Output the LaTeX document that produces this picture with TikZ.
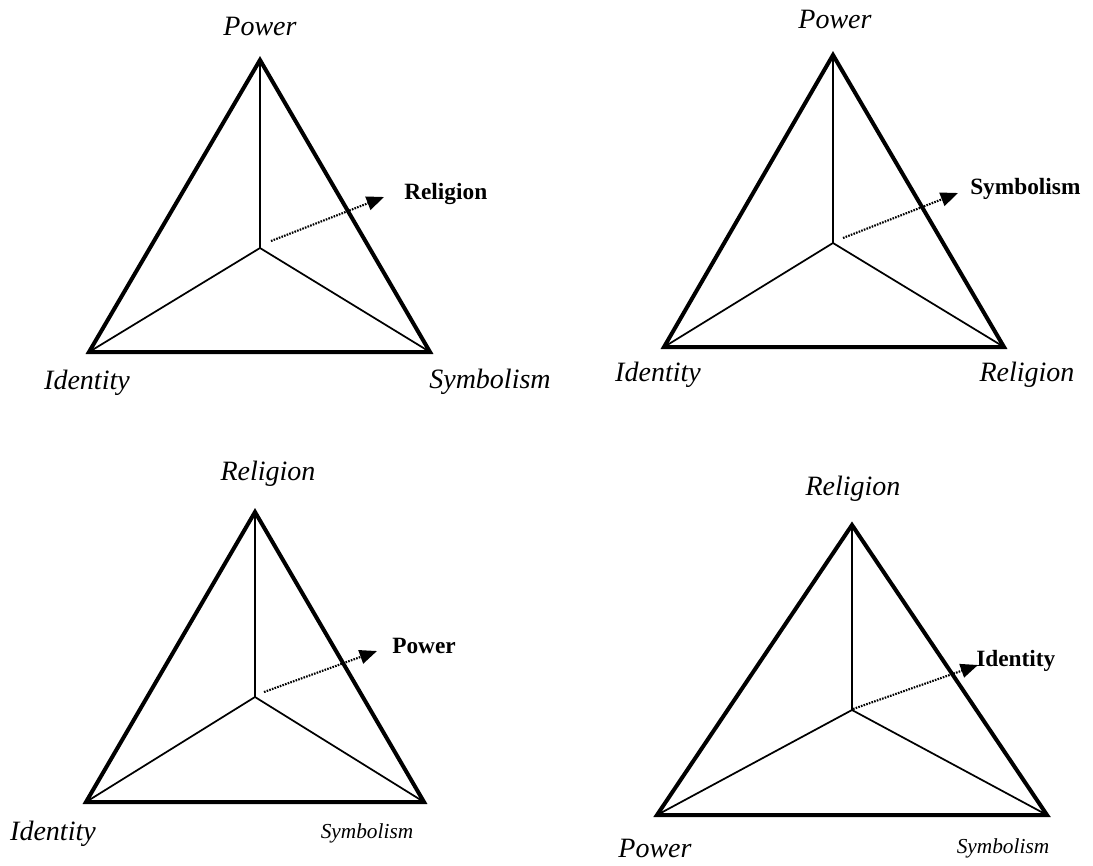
\documentclass[tikz,border=0pt]{standalone}
\usepackage{fontspec}
\setmainfont{Liberation Serif}
\usetikzlibrary{arrows.meta}
\tikzset{
  edge/.style={line width=3pt, line join=miter},
  spoke/.style={line width=1.3pt},
  ptr/.style={line width=1.6pt, dash pattern=on 1.2pt off 0.9pt, -{Triangle[length=13pt,width=10.5pt]}},
  vlab/.style={font=\fontsize{21}{24}\selectfont\itshape, inner sep=0pt},
  vsmall/.style={font=\fontsize{16}{19}\selectfont\itshape, inner sep=0pt},
  blab/.style={font=\fontsize{17.5}{20}\selectfont\bfseries, inner sep=0pt, anchor=west},
}
\begin{document}
\begin{tikzpicture}[x=0.75pt,y=-0.75pt]
\useasboundingbox (0,0) rectangle (1093,865);
% ---------- Triangle 1 ----------
\coordinate (a1) at (260,60);
\coordinate (l1) at (89,352);
\coordinate (r1) at (430,352);
\coordinate (c1) at (260,248);
\draw[edge] (a1) -- (l1) -- (r1) -- cycle;
\draw[spoke] (c1) -- (a1) (c1) -- (l1) (c1) -- (r1);
\coordinate (s1) at (271,241);
\coordinate (e1) at (384,197);
\draw[ptr] (s1) -- (e1);
\node[blab] (b1) at (404,194) {Religion};
\node[vlab] (p1) at (260,26) {Power};
\node[vlab] (i1) at (87,383) {Identity};
\node[vlab] (y1) at (490,382) {Symbolism};
% ---------- Triangle 2 ----------
\coordinate (a2) at (833,55);
\coordinate (l2) at (664,347);
\coordinate (r2) at (1004,347);
\coordinate (c2) at (833,243);
\draw[edge] (a2) -- (l2) -- (r2) -- cycle;
\draw[spoke] (c2) -- (a2) (c2) -- (l2) (c2) -- (r2);
\coordinate (s2) at (843,238);
\coordinate (e2) at (958,193);
\draw[ptr] (s2) -- (e2);
\node[blab] (b2) at (970,189) {Symbolism};
\node[vlab] (p2) at (835,19) {Power};
\node[vlab] (i2) at (658,375) {Identity};
\node[vlab] (y2) at (1027,375) {Religion};
% ---------- Triangle 3 ----------
\coordinate (a3) at (255,512);
\coordinate (l3) at (86,802);
\coordinate (r3) at (424,802);
\coordinate (c3) at (255,697);
\draw[edge] (a3) -- (l3) -- (r3) -- cycle;
\draw[spoke] (c3) -- (a3) (c3) -- (l3) (c3) -- (r3);
\coordinate (s3) at (264,692);
\coordinate (e3) at (377,651);
\draw[ptr] (s3) -- (e3);
\node[blab] (b3) at (392,646) {Power};
\node[vlab] (p3) at (268,474) {Religion};
\node[vlab] (i3) at (53,834) {Identity};
\node[vsmall] (y3) at (367,833) {Symbolism};
% ---------- Triangle 4 ----------
\coordinate (a4) at (852,525);
\coordinate (l4) at (657,815);
\coordinate (r4) at (1047,815);
\coordinate (c4) at (852,710);
\draw[edge] (a4) -- (l4) -- (r4) -- cycle;
\draw[spoke] (c4) -- (a4) (c4) -- (l4) (c4) -- (r4);
\coordinate (s4) at (853,709);
\coordinate (e4) at (978,665);
\draw[ptr] (s4) -- (e4);
\node[blab] (b4) at (976,661) {Identity};
\node[vlab] (p4) at (853,489) {Religion};
\node[vlab] (i4) at (655,848) {Power};
\node[vsmall] (y4) at (1003,848) {Symbolism};
\end{tikzpicture}
\end{document}
